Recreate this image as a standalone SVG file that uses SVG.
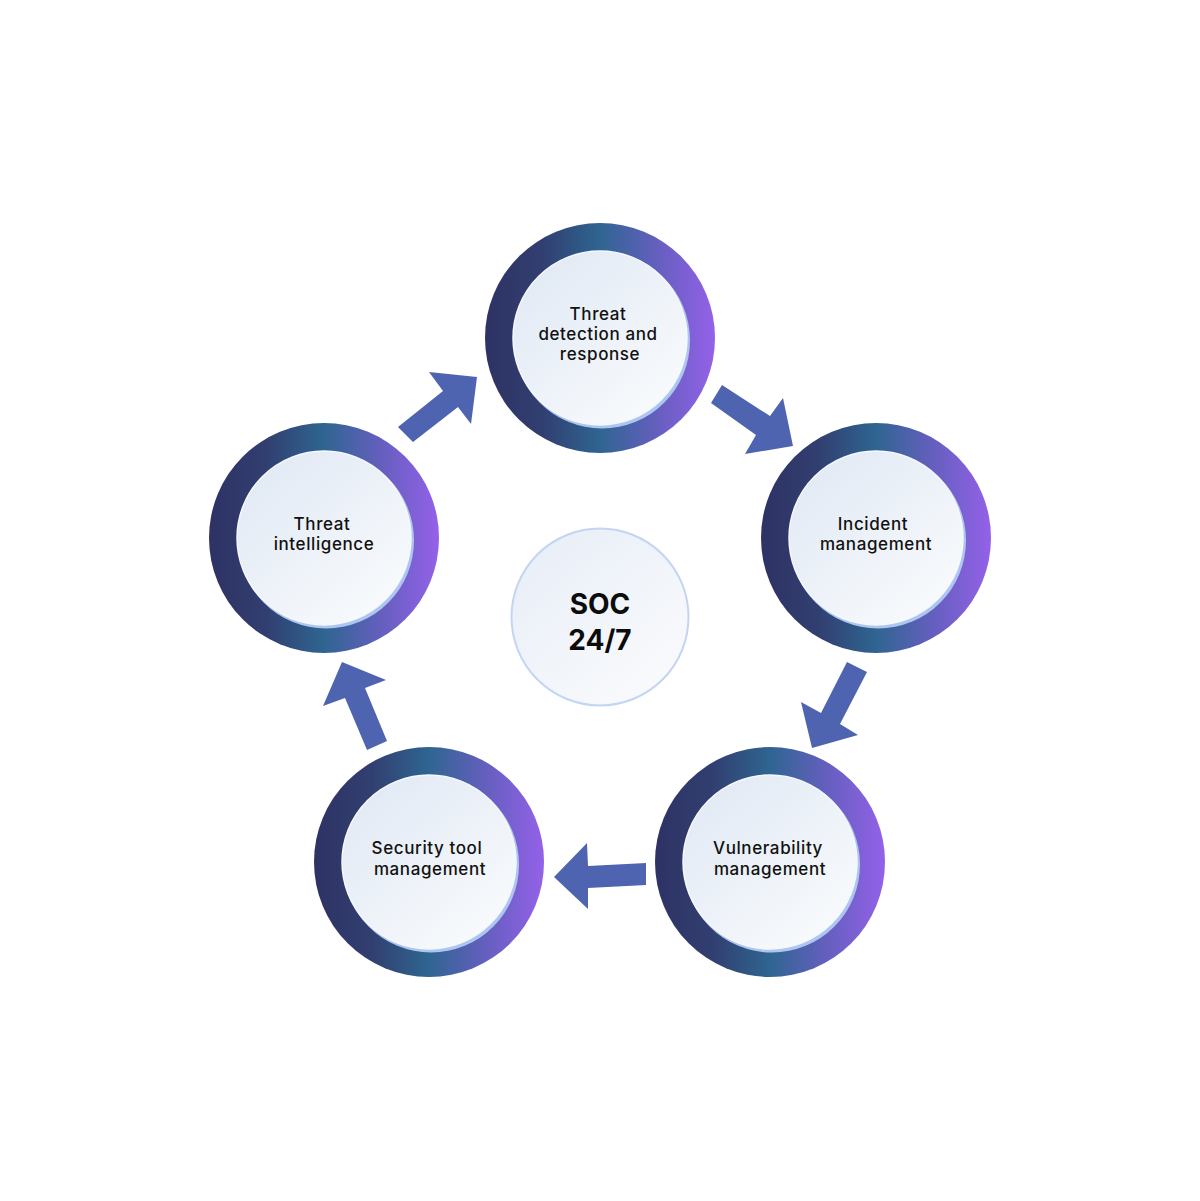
<svg xmlns="http://www.w3.org/2000/svg" width="1200" height="1201" viewBox="0 0 1200 1201">
  <defs>
    <linearGradient id="ring" x1="0" y1="0" x2="1" y2="0">
      <stop offset="0" stop-color="#2e3264"/>
      <stop offset="0.25" stop-color="#313f70"/>
      <stop offset="0.5" stop-color="#2f6591"/>
      <stop offset="0.75" stop-color="#655fbf"/>
      <stop offset="1" stop-color="#9461e9"/>
    </linearGradient>
    <linearGradient id="inner" x1="0.15" y1="0.1" x2="0.85" y2="0.9">
      <stop offset="0" stop-color="#e2eaf5"/>
      <stop offset="1" stop-color="#f8fafc"/>
    </linearGradient>
    <linearGradient id="center" x1="0.15" y1="0.1" x2="0.85" y2="0.9">
      <stop offset="0" stop-color="#e9eff8"/>
      <stop offset="1" stop-color="#f9fafc"/>
    </linearGradient>
  </defs>
  <style>
    .ring { fill: url(#ring); }
    .edge { fill: #adc6ef; }
    .inner { fill: url(#inner); stroke: #f5f8fc; stroke-width: 1.5; }
    .lbl { font-family: Inter, "Liberation Sans", sans-serif; font-size: 17px; font-weight: 500; letter-spacing: 0.6px; fill: #111111; text-anchor: middle; }
    .big { font-family: Inter, "Liberation Sans", sans-serif; font-size: 28px; font-weight: 700; fill: #0c0c0c; text-anchor: middle; }
    .arrow { fill: #4f64b0; }
  </style>
  <rect width="1200" height="1201" fill="#ffffff"/>

  <g id="connectors">
    <polygon class="arrow" points="398,427 443,391 429,372 477,377 471,424 458,407 413,442"/>
    <polygon class="arrow" points="722,385 770,416 783,398 793,446 745,454 756,435 711,403"/>
    <polygon class="arrow" points="847,662 867,672 840,724 858,735 812,748 801,702 821,713"/>
    <polygon class="arrow" points="646,863 588,866 587,843 554,877 588,909 588,888 646,885"/>
    <polygon class="arrow" points="367,750 387,741 365,688 386,680 342,662 323,706 345,698"/>
  </g>

  <g id="node-center">
    <circle cx="600" cy="617" r="88.5" fill="url(#center)" stroke="#c3d5f3" stroke-width="2"/>
    <text class="big" x="600" y="614">SOC</text>
    <text class="big" x="600" y="650">24/7</text>
  </g>

  <g id="node-threat-detection">
    <circle class="ring" cx="600" cy="338" r="115"/>
    <circle class="edge" cx="602" cy="340.5" r="88"/>
    <circle class="inner" cx="600" cy="338" r="87"/>
    <text class="lbl" x="598" y="320">Threat</text>
    <text class="lbl" x="598" y="340">detection and</text>
    <text class="lbl" x="600" y="360">response</text>
  </g>

  <g id="node-incident">
    <circle class="ring" cx="876" cy="538" r="115"/>
    <circle class="edge" cx="878" cy="540.5" r="88"/>
    <circle class="inner" cx="876" cy="538" r="87"/>
    <text class="lbl" x="873" y="530">Incident</text>
    <text class="lbl" x="876" y="550">management</text>
  </g>

  <g id="node-vulnerability">
    <circle class="ring" cx="770" cy="862" r="115"/>
    <circle class="edge" cx="772" cy="864.5" r="88"/>
    <circle class="inner" cx="770" cy="862" r="87"/>
    <text class="lbl" x="768" y="854">Vulnerability</text>
    <text class="lbl" x="770" y="875">management</text>
  </g>

  <g id="node-security-tool">
    <circle class="ring" cx="429" cy="862" r="115"/>
    <circle class="edge" cx="431" cy="864.5" r="88"/>
    <circle class="inner" cx="429" cy="862" r="87"/>
    <text class="lbl" x="427" y="854">Security tool</text>
    <text class="lbl" x="430" y="875">management</text>
  </g>

  <g id="node-threat-intelligence">
    <circle class="ring" cx="324" cy="538" r="115"/>
    <circle class="edge" cx="326" cy="540.5" r="88"/>
    <circle class="inner" cx="324" cy="538" r="87"/>
    <text class="lbl" x="322" y="530">Threat</text>
    <text class="lbl" x="324" y="550">intelligence</text>
  </g>
</svg>
